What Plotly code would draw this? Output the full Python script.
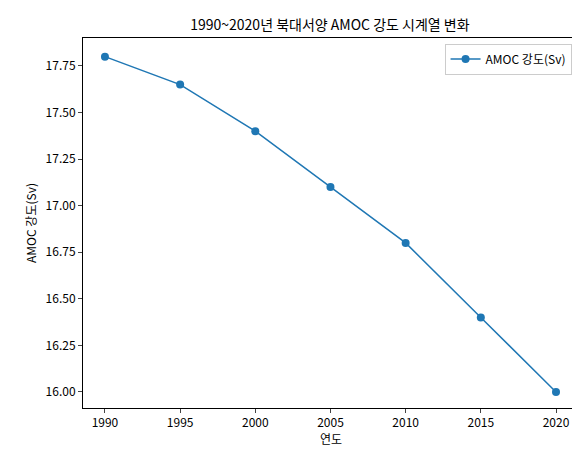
import plotly.graph_objects as go

years = [1990, 1995, 2000, 2005, 2010, 2015, 2020]
amoc = [17.8, 17.65, 17.4, 17.1, 16.8, 16.4, 16.0]
yticks = [16.0, 16.25, 16.5, 16.75, 17.0, 17.25, 17.5, 17.75]

font = "Noto Sans CJK KR"
fig = go.Figure(go.Scatter(x=years, y=amoc, mode="lines+markers", name="AMOC 강도(Sv)",
                           line=dict(color="#1f77b4", width=1.5), marker=dict(size=8, color="#1f77b4")))
axis = dict(showline=True, mirror=True, linecolor="black", linewidth=1, ticks="outside",
            ticklen=4, showgrid=False, zeroline=False, automargin=False,
            tickfont=dict(size=12, color="black"))
fig.update_layout(
    width=580, height=454, plot_bgcolor="white", paper_bgcolor="white",
    font=dict(family=font, size=12, color="black"),
    margin=dict(l=75, r=9, t=30, b=54, autoexpand=False),
    title=dict(text="1990~2020년 북대서양 AMOC 강도 시계열 변화", x=0.555, xanchor="center", y=0.962, yanchor="middle", font=dict(size=14)),
    xaxis=dict(axis, range=[1988.54, 2021.53], tickvals=years, title=dict(text="연도", standoff=4, font=dict(size=12))),
    yaxis=dict(axis, range=[15.914, 17.90], tickvals=yticks, ticktext=[f"{v:.2f}" for v in yticks], title=dict(text="AMOC 강도(Sv)", standoff=6, font=dict(size=12))),
    showlegend=True,
    legend=dict(x=0.985, y=0.985, xanchor="right", yanchor="top", bordercolor="#cccccc", borderwidth=1, font=dict(size=12)),
)
fig.write_html("out.html")
